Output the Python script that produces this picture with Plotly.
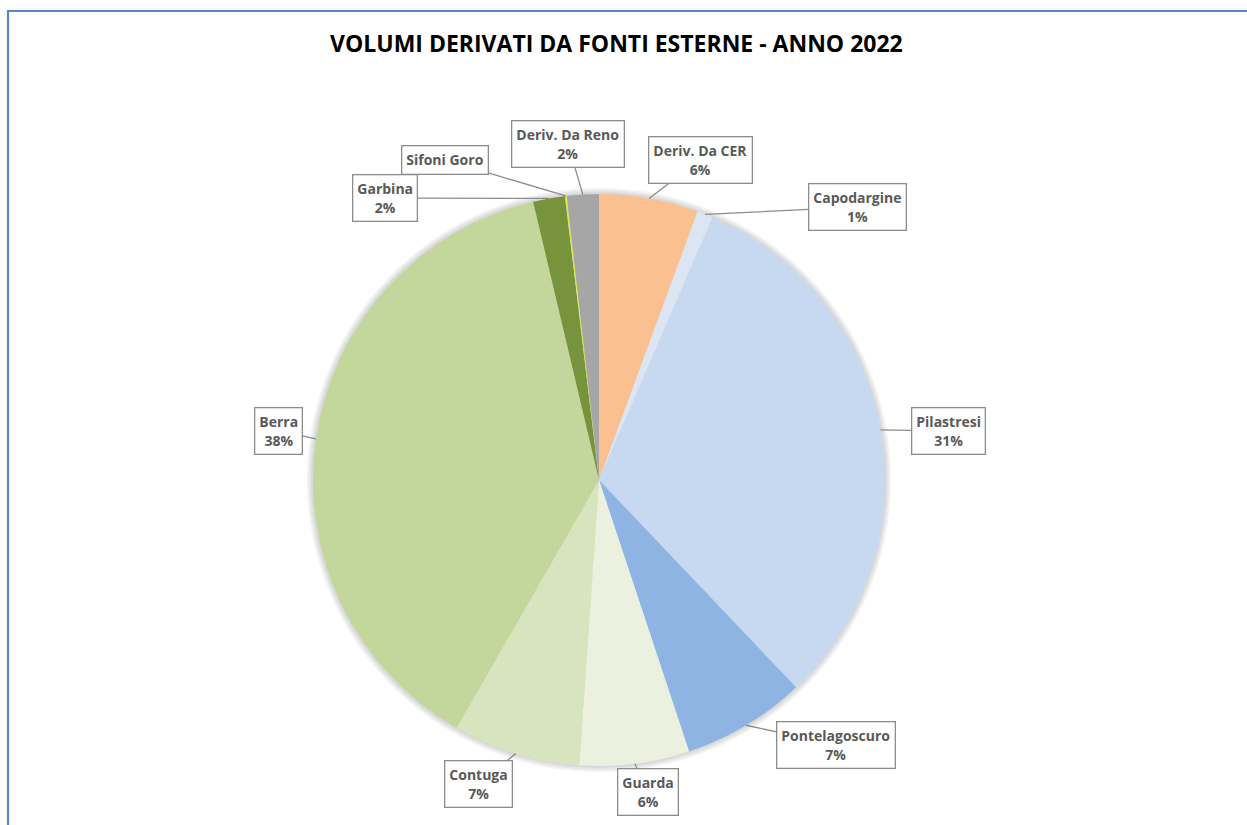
import math
import plotly.graph_objects as go

# Volumes by source, share of total (percent), clockwise from 12 o'clock
sources = ["Deriv. Da CER", "Capodargine", "Pilastresi", "Pontelagoscuro", "Guarda",
           "Contuga", "Berra", "Garbina", "Sifoni Goro", "Deriv. Da Reno"]
shares = [5.6, 0.9, 31.4, 7.0, 6.2, 7.2, 38.0, 1.8, 0.1, 1.8]
colors = ["#fac090", "#dce6f2", "#c6d9f1", "#8eb4e3", "#ebf1de",
          "#d7e4bd", "#c3d69b", "#77933c", "#d9e84c", "#a6a6a6"]

title = "VOLUMI DERIVATI DA FONTI ESTERNE - ANNO 2022"

W, H = 1247, 825
CX, CY, R = 599, 480, 286  # pie centre and radius in pixels

# Callout box centres in pixels
label_pos = [(700, 160), (857, 207), (948, 431), (836, 745), (648, 792),
             (478, 784), (278, 431), (385, 198), (445, 160), (568, 144)]


def pie_domain(r):
    return dict(x=[(CX - r) / W, (CX + r) / W], y=[(H - CY - r) / H, (H - CY + r) / H])


fig = go.Figure()

# soft glow behind the pie
for dr in (6, 4, 2):
    fig.add_trace(go.Pie(
        values=[1], sort=False, textinfo="none", hoverinfo="skip", showlegend=False,
        marker=dict(colors=["rgba(0,0,0,0.05)"], line=dict(width=0)),
        domain=pie_domain(R + dr),
    ))

fig.add_trace(go.Pie(
    labels=sources, values=shares, sort=False, direction="clockwise", rotation=0,
    marker=dict(colors=colors, line=dict(width=0)),
    textinfo="none", hoverinfo="label+percent", showlegend=False,
    domain=pie_domain(R),
))

total = sum(shares)
cum = 0.0
annotations = []
for name, v, (bx, by) in zip(sources, shares, label_pos):
    mid = (cum + v / 2) / total * 2 * math.pi
    cum += v
    tx = CX + R * math.sin(mid)
    ty = CY - R * math.cos(mid)
    pct = round(v / total * 100)
    text = f"<b>{name}</b>" if pct == 0 else f"<b>{name}</b><br><b>{pct}%</b>"
    annotations.append(dict(
        x=tx / W, y=1 - ty / H, xref="paper", yref="paper",
        ax=bx - tx, ay=by - ty, axref="pixel", ayref="pixel",
        text=text, showarrow=True, arrowhead=0, arrowwidth=1.3, arrowcolor="#8c8c8c",
        font=dict(family="Open Sans", size=14, color="#595959"),
        bgcolor="white", bordercolor="#8c8c8c", borderwidth=1.3, borderpad=4,
        align="center",
    ))

annotations.append(dict(
    x=616 / W, y=1 - 43 / H, xref="paper", yref="paper", showarrow=False,
    text=f"<b>{title}</b>", font=dict(family="Open Sans", size=23, color="#000000"),
    xanchor="center", yanchor="middle",
))

fig.update_layout(
    width=W, height=H, margin=dict(l=0, r=0, t=0, b=0),
    paper_bgcolor="white", plot_bgcolor="white",
    annotations=annotations,
    shapes=[dict(type="rect", xref="paper", yref="paper",
                 x0=8 / W, x1=1 + 10 / W, y0=-0.05, y1=1 - 11 / H,
                 line=dict(color="#5a86c5", width=2.2), fillcolor="rgba(0,0,0,0)")],
)

fig.write_html("out.html")
